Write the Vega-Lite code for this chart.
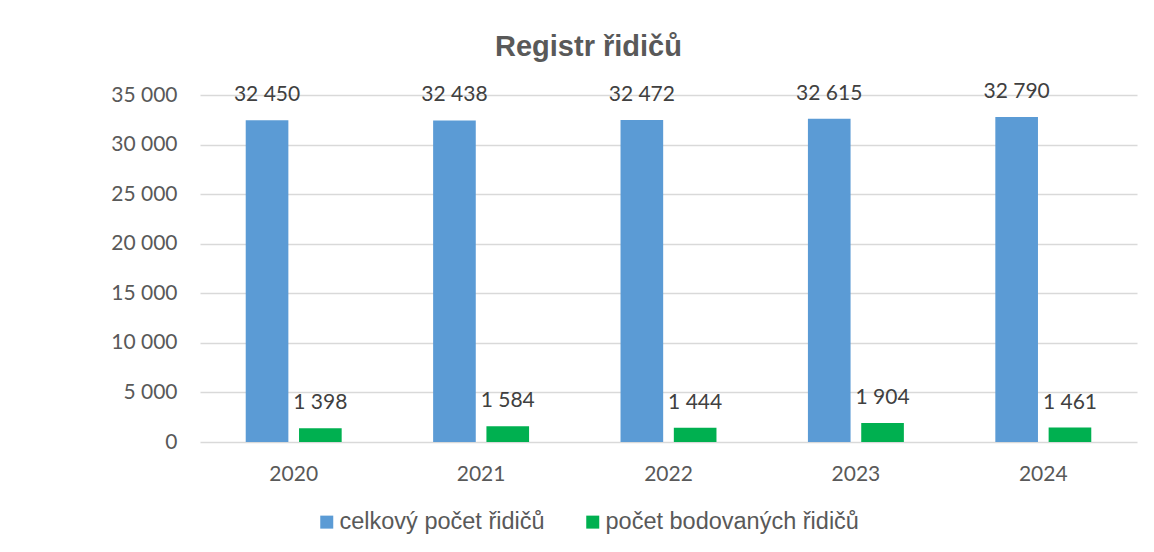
{
  "$schema": "https://vega.github.io/schema/vega-lite/v6.json",
  "autosize": {"type": "none"},
  "width": 937,
  "height": 347,
  "padding": {"left": 200, "top": 95, "right": 17, "bottom": 110},
  "background": "white",
  "config": {
    "locale": {"number": {"decimal": ",", "thousands": " ", "grouping": [3], "currency": ["", " Kč"]}},
    "view": {"stroke": null},
    "axis": {"labelFont": "Lato", "labelFontSize": 21, "labelColor": "#595959", "domain": false, "ticks": false, "title": null}
  },
  "title": {
    "text": "Registr řidičů",
    "font": "Liberation Sans",
    "fontSize": 29,
    "fontWeight": "bold",
    "color": "#595959",
    "anchor": "middle",
    "dx": -80,
    "offset": 19
  },
  "data": {
    "values": [
      {"rok": "2020", "serie": "celkový počet řidičů", "hodnota": 32450},
      {"rok": "2020", "serie": "počet bodovaných řidičů", "hodnota": 1398},
      {"rok": "2021", "serie": "celkový počet řidičů", "hodnota": 32438},
      {"rok": "2021", "serie": "počet bodovaných řidičů", "hodnota": 1584},
      {"rok": "2022", "serie": "celkový počet řidičů", "hodnota": 32472},
      {"rok": "2022", "serie": "počet bodovaných řidičů", "hodnota": 1444},
      {"rok": "2023", "serie": "celkový počet řidičů", "hodnota": 32615},
      {"rok": "2023", "serie": "počet bodovaných řidičů", "hodnota": 1904},
      {"rok": "2024", "serie": "celkový počet řidičů", "hodnota": 32790},
      {"rok": "2024", "serie": "počet bodovaných řidičů", "hodnota": 1461}
    ]
  },
  "encoding": {
    "x": {
      "field": "rok", "type": "nominal",
      "scale": {"paddingInner": 0.488, "paddingOuter": 0.244},
      "axis": {"labelAngle": 0, "labelPadding": 21, "grid": false}
    },
    "xOffset": {
      "field": "serie", "type": "nominal",
      "scale": {"domain": ["celkový počet řidičů", "počet bodovaných řidičů"], "paddingInner": 0.2}
    },
    "y": {
      "field": "hodnota", "type": "quantitative",
      "scale": {"domain": [0, 35000], "nice": false},
      "axis": {"values": [0, 5000, 10000, 15000, 20000, 25000, 30000, 35000], "format": ",d", "labelPadding": 23, "gridColor": "#d9d9d9", "gridWidth": 1.5}
    }
  },
  "layer": [
    {
      "mark": {"type": "bar"},
      "encoding": {
        "color": {
          "field": "serie", "type": "nominal",
          "scale": {"domain": ["celkový počet řidičů", "počet bodovaných řidičů"], "range": ["#5B9BD5", "#00B050"]},
          "legend": {
            "title": null,
            "orient": "none",
            "direction": "horizontal",
            "legendX": 115,
            "legendY": 415,
            "symbolType": "square",
            "symbolSize": 169,
            "symbolStrokeWidth": 0,
            "labelFont": "Liberation Sans",
            "labelFontSize": 23.5,
            "labelColor": "#595959",
            "labelOffset": 1,
            "columnPadding": 36,
            "labelLimit": 400
          }
        }
      }
    },
    {
      "mark": {"type": "text", "baseline": "middle", "dy": -25, "font": "Lato", "fontSize": 21, "color": "#404040"},
      "encoding": {
        "text": {"field": "hodnota", "type": "quantitative", "format": ",d"}
      }
    }
  ]
}
